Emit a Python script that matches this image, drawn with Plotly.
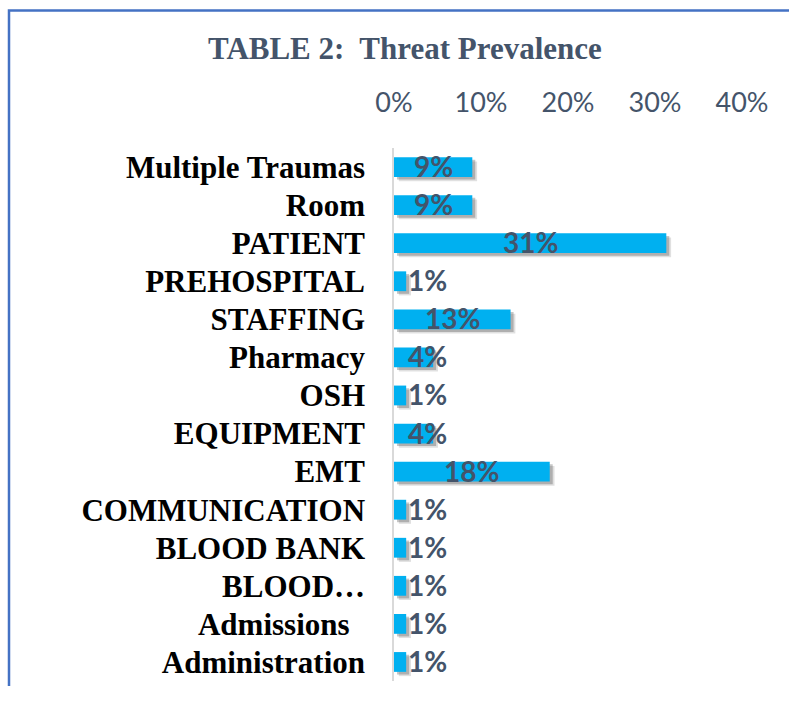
import plotly.graph_objects as go

categories = ["Multiple Traumas", "Room", "PATIENT", "PREHOSPITAL", "STAFFING",
              "Pharmacy", "OSH", "EQUIPMENT", "EMT", "COMMUNICATION",
              "BLOOD BANK", "BLOOD…", "Admissions\u00a0\u00a0", "Administration"]
values = [0.090, 0.090, 0.313, 0.014, 0.134, 0.045, 0.014, 0.045, 0.179,
          0.014, 0.014, 0.014, 0.014, 0.014]
tick_vals = [0, 0.1, 0.2, 0.3, 0.4]
tick_text = ["0%", "10%", "20%", "30%", "40%"]

W, H = 789, 702
L, R, T, B = 394, 47, 148, 21
pw, ph = W - L - R, H - T - B

BAR = "#00B0F0"
TXT = "#44546A"

# label placement: centred in the bar, but never closer to the axis than min_pos
min_pos = 0.039
label_x = [max(v / 2, min_pos) for v in values]
labels = [f"{v*100:.0f}%" for v in values]

fig = go.Figure()
# soft drop shadow
sdx = 3 / pw * 0.4
for alpha, k in [(0.12, 1.6), (0.22, 1.0)]:
    fig.add_trace(go.Bar(
        y=categories, x=values, base=[sdx * k] * len(values), orientation="h",
        width=0.52, offset=-0.26 + 0.07 * k,
        marker=dict(color=f"rgba(0,0,0,{alpha})", line=dict(width=0)),
        hoverinfo="skip", showlegend=False))
fig.add_trace(go.Bar(
    y=categories, x=values, orientation="h", width=0.52, offset=-0.26,
    marker=dict(color=BAR, line=dict(width=0)), showlegend=False))

annotations = [dict(
    text="<b>TABLE 2:  Threat Prevalence</b>", xref="paper", yref="paper",
    x=(405 - L) / pw, y=(H - 48 - B) / ph, xanchor="center", yanchor="middle",
    showarrow=False, font=dict(family="Liberation Serif", size=31, color=TXT))]
for cat, lx, lab in zip(categories, label_x, labels):
    annotations.append(dict(
        x=lx, y=cat, xref="x", yref="y", text=lab, showarrow=False,
        xanchor="center", yanchor="middle", yshift=1,
        font=dict(family="Lato", size=28, color=TXT, weight="bold")))

fig.update_layout(
    width=W, height=H, barmode="overlay",
    margin=dict(l=L, r=R, t=T, b=B),
    paper_bgcolor="white", plot_bgcolor="white",
    annotations=annotations,
    shapes=[dict(type="path", xref="paper", yref="paper",
                 path=f"M {(9 - L)/pw},{(-5 - 0)/ph} L {(9 - L)/pw},{(H - 10.5 - B)/ph} L {(W + 5 - L)/pw},{(H - 10.5 - B)/ph}",
                 line=dict(color="#4472C4", width=2.5))],
)
fig.update_xaxes(side="top", range=[0, 0.4], tickvals=tick_vals, ticktext=tick_text,
                 showgrid=False, zeroline=False, showline=False, ticks="",
                 ticklabelstandoff=30,
                 tickfont=dict(family="Lato", size=27, color=TXT), fixedrange=True)
fig.update_yaxes(type="category", range=[len(categories) - 0.5, -0.5], showgrid=False,
                 zeroline=False, showline=True, linecolor="#D9D9D9", linewidth=1.5,
                 ticks="", ticklabelstandoff=21,
                 tickfont=dict(family="Liberation Serif", size=31, color="black", weight="bold"),
                 fixedrange=True)

fig.write_html("out.html", post_script="document.body.style.margin='0';",
               config={"displayModeBar": False})
